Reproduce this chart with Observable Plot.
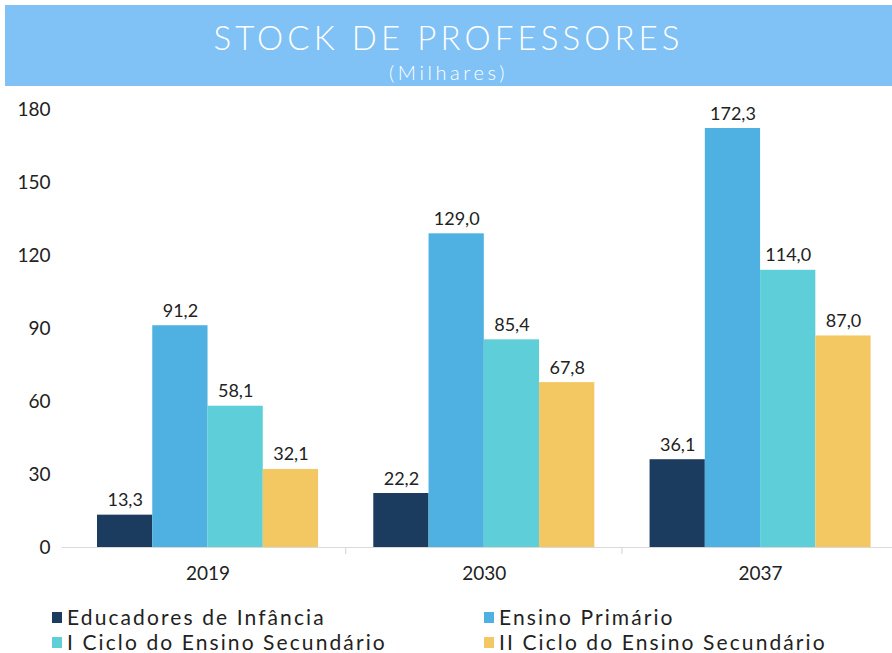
<!DOCTYPE html>
<html>
<head>
<meta charset="utf-8">
<script src="https://cdn.jsdelivr.net/npm/d3@7"></script>
<script src="https://cdn.jsdelivr.net/npm/@observablehq/plot@0.6"></script>
<style>
  html, body { margin: 0; padding: 0; background: #ffffff; width: 892px; height: 653px; overflow: hidden; position: relative; font-family: Lato, "Noto Sans", sans-serif; }
  #banner { position: absolute; left: 5px; top: 5px; width: 887px; height: 81px; background: #80c2f6; color: #ffffff; text-align: center; }
  #title { position: absolute; left: 0; right: 0; top: 12px; font-size: 33px; font-weight: 300; letter-spacing: 4.1px; line-height: 40px; }
  #subtitle { position: absolute; left: 0; right: 0; top: 55px; font-size: 20px; font-weight: 300; letter-spacing: 3.6px; line-height: 24px; }
  #chart { position: absolute; left: 0; top: 90px; }
  .leg { position: absolute; font-size: 21px; font-weight: 400; color: #222; letter-spacing: 2.1px; line-height: 24px; white-space: nowrap; }
  .sw { position: absolute; width: 10px; height: 11px; }
</style>
</head>
<body>
<div id="banner"><div id="title"></div><div id="subtitle"></div></div>
<div id="chart"></div>
<div id="legend"></div>
<script>
const titleText = "STOCK DE PROFESSORES";
const subtitleText = "(Milhares)";
const years = ["2019", "2030", "2037"];
const series = ["Educadores de Infância", "Ensino Primário", "I Ciclo do Ensino Secundário", "II Ciclo do Ensino Secundário"];
const educadores = [13.3, 22.2, 36.1];
const primario = [91.2, 129.0, 172.3];
const ciclo1 = [58.1, 85.4, 114.0];
const ciclo2 = [32.1, 67.8, 87.0];
const colors = ["#1b3b5f", "#4fb0e2", "#5ecfd9", "#f3c862"];
const yTicks = [0, 30, 60, 90, 120, 150, 180];

document.getElementById("title").textContent = titleText;
document.getElementById("subtitle").textContent = subtitleText;

const seriesValues = [educadores, primario, ciclo1, ciclo2];
const data = [];
years.forEach((yr, i) => {
  series.forEach((s, j) => data.push({year: yr, series: s, value: seriesValues[j][i]}));
});
const fmt = d => d.value.toFixed(1).replace(".", ",");

const W = 892, H = 505;
const plot = Plot.plot({
  width: W,
  height: H,
  marginLeft: 75.6,
  marginRight: 0,
  marginTop: 19.3,
  marginBottom: 48,
  style: {fontFamily: "Lato, 'Noto Sans', sans-serif", fontSize: "19px", color: "#222", background: "transparent"},
  fx: {domain: years, paddingInner: 0.2, paddingOuter: 0.0775, round: false, label: null, tickSize: 0, tickPadding: 19},
  x: {domain: series, padding: 0, round: false, axis: null},
  y: {domain: [0, 180], ticks: yTicks, tickSize: 0, tickPadding: 47, label: null},
  color: {domain: series, range: colors},
  marks: [
    Plot.barY(data, {fx: "year", x: "series", y: "value", fill: "series"}),
    Plot.text(data, {fx: "year", x: "series", y: "value", text: fmt, fontSize: 18, fill: "#222", lineAnchor: "bottom", dy: -9})
  ]
});
document.getElementById("chart").appendChild(plot);

// baseline and group separator ticks, derived from Plot's scales
const fxS = plot.scale("fx");
const yS = plot.scale("y");
const band = d3.scaleBand().domain(fxS.domain).range(fxS.range).paddingInner(0.2).paddingOuter(0.0775);
const yLin = d3.scaleLinear().domain(yS.domain).range(yS.range);
const y0 = yLin(0);
const svg = d3.select(plot.tagName.toLowerCase() === "svg" ? plot : plot.querySelector("svg"));
const g = svg.insert("g", ":first-child");
g.append("line").attr("x1", fxS.range[0] - 14).attr("x2", W).attr("y1", y0 + 0.5).attr("y2", y0 + 0.5).attr("stroke", "#d9d9d9").attr("stroke-width", 1.2);
for (let i = 1; i < years.length; i++) {
  const xb = band(years[i]) - band.step() * 0.2 / 2;
  g.append("line").attr("x1", xb).attr("x2", xb).attr("y1", y0).attr("y2", y0 + 7).attr("stroke", "#d9d9d9").attr("stroke-width", 1.2);
}

// legend
const legend = document.getElementById("legend");
const legPos = [[52, 612], [484, 612], [52, 637], [484, 637]];
series.forEach((s, i) => {
  const sw = document.createElement("div");
  sw.className = "sw";
  sw.style.left = legPos[i][0] + "px";
  sw.style.top = legPos[i][1] + "px";
  sw.style.background = colors[i];
  legend.appendChild(sw);
  const t = document.createElement("div");
  t.className = "leg";
  t.style.left = (legPos[i][0] + 15) + "px";
  t.style.top = (legPos[i][1] - 7) + "px";
  t.textContent = s;
  legend.appendChild(t);
});
</script>
</body>
</html>
